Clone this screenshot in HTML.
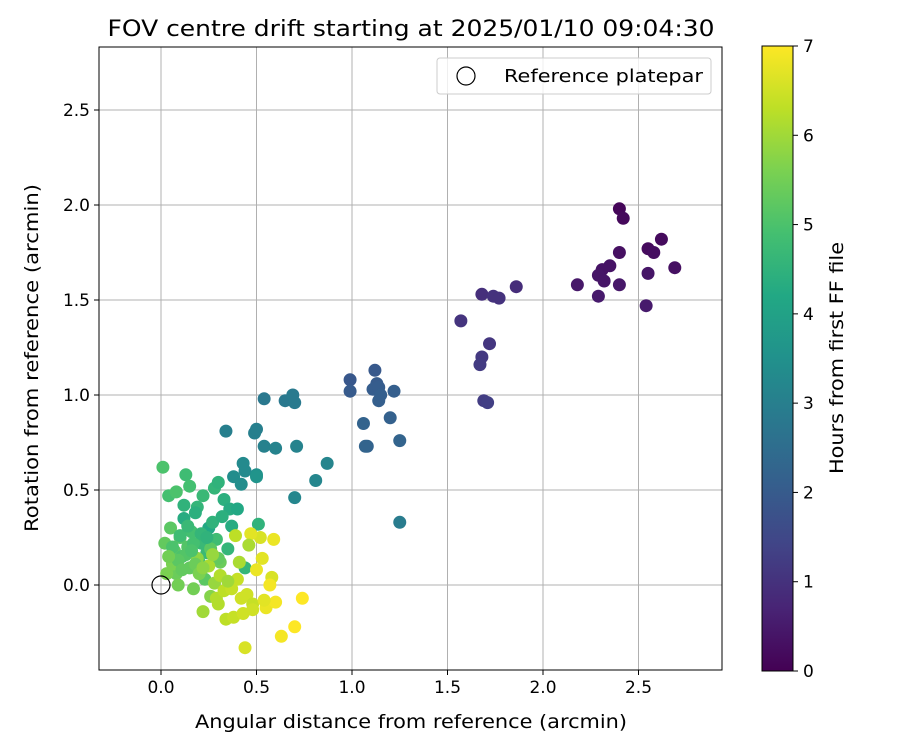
<!DOCTYPE html>
<html><head><meta charset="utf-8"><style>
body{margin:0;background:#fff;font-family:"DejaVu Sans","Liberation Sans",sans-serif}
</style></head><body>
<svg id="chart" width="900" height="750" xmlns="http://www.w3.org/2000/svg" font-family="DejaVu Sans, Liberation Sans, sans-serif">
<defs>
<linearGradient id="vir" x1="0" y1="1" x2="0" y2="0">
<stop offset="0" stop-color="#440154"/><stop offset="0.1" stop-color="#482475"/><stop offset="0.2" stop-color="#414487"/><stop offset="0.3" stop-color="#355f8d"/><stop offset="0.4" stop-color="#2a788e"/><stop offset="0.5" stop-color="#21918c"/><stop offset="0.6" stop-color="#22a884"/><stop offset="0.7" stop-color="#44bf70"/><stop offset="0.8" stop-color="#7ad151"/><stop offset="0.9" stop-color="#bddf26"/><stop offset="1" stop-color="#fde725"/>
</linearGradient>
<clipPath id="clip"><rect x="99" y="47" width="623" height="623"/></clipPath>
</defs>
<text x="411" y="36" font-size="22" text-anchor="middle" textLength="607" lengthAdjust="spacingAndGlyphs">FOV centre drift starting at 2025/01/10 09:04:30</text>
<g id="grid"></g>
<g id="points" clip-path="url(#clip)"></g>
<rect x="99" y="47" width="623" height="623" fill="none" stroke="#000" stroke-width="1"/>
<g id="ticks" font-size="17"></g>
<text x="411" y="728" font-size="19" text-anchor="middle" textLength="432" lengthAdjust="spacingAndGlyphs">Angular distance from reference (arcmin)</text>
<text transform="translate(38,358) rotate(-90)" font-size="19" text-anchor="middle" textLength="348" lengthAdjust="spacingAndGlyphs">Rotation from reference (arcmin)</text>
<g>
<rect x="437" y="58" width="274" height="36" rx="3" fill="#fff" fill-opacity="0.8" stroke="#ccc"/>
<circle cx="466" cy="76" r="9" fill="none" stroke="#000" stroke-width="1.2"/>
<text x="504" y="82" font-size="18" textLength="199" lengthAdjust="spacingAndGlyphs">Reference platepar</text>
</g>
<rect x="762" y="46" width="31" height="625" fill="url(#vir)" stroke="#000"/>
<g id="cbticks" font-size="17"></g>
<text transform="translate(843,358) rotate(-90)" font-size="19" text-anchor="middle" textLength="232" lengthAdjust="spacingAndGlyphs">Hours from first FF file</text>
</svg>
<script>
const xTicks=[0.0,0.5,1.0,1.5,2.0,2.5];
const yTicks=[0.0,0.5,1.0,1.5,2.0,2.5];
const cTicks=[0,1,2,3,4,5,6,7];
const ptX=[2.40,2.42,2.62,2.55,2.58,2.40,2.69,2.35,2.31,2.29,2.32,2.55,2.18,2.40,2.29,2.54,
1.86,1.68,1.74,1.77,1.57,1.72,1.68,1.67,1.69,1.71,
0.99,1.12,1.13,0.99,1.11,1.14,1.15,1.22,1.14,1.20,1.06,1.08,1.07,1.25,1.25,
0.54,0.65,0.69,0.70,0.34,0.49,0.50,0.54,0.60,0.71,0.87,0.81,0.70,0.43,0.44,0.38,0.42,0.50,0.50,
0.01,0.04,0.08,0.13,0.15,0.19,0.22,0.28,0.30,0.33,0.36,0.40,0.12,0.18,0.25,0.05,0.10,0.16,0.21,0.27,0.32,0.37,0.02,0.07,0.11,0.14,0.20,0.24,0.29,0.35,0.08,0.15,0.23,0.31,0.44,0.51,0.03,0.09,0.17,0.26,0.12,0.19,0.06,0.22,0.28,
0.06,0.10,0.13,0.17,0.21,0.26,0.30,0.14,0.18,0.09,0.24,0.04,0.11,0.20,0.16,
0.25,0.31,0.36,0.40,0.45,0.48,0.52,0.58,0.34,0.42,0.47,0.55,0.60,0.63,0.70,0.74,0.38,0.44,0.50,0.57,0.29,0.33,0.39,0.46,0.53,0.59,0.43,0.37,0.48,0.54,0.27,0.41,0.22,0.30,0.35];
const ptY=[1.98,1.93,1.82,1.77,1.75,1.75,1.67,1.68,1.66,1.63,1.60,1.64,1.58,1.58,1.52,1.47,
1.57,1.53,1.52,1.51,1.39,1.27,1.20,1.16,0.97,0.96,
1.08,1.13,1.06,1.02,1.03,1.04,1.00,1.02,0.97,0.88,0.85,0.73,0.73,0.76,0.33,
0.98,0.97,1.00,0.96,0.81,0.80,0.82,0.73,0.72,0.73,0.64,0.55,0.46,0.64,0.60,0.57,0.53,0.58,0.57,
0.62,0.47,0.49,0.58,0.52,0.41,0.47,0.51,0.54,0.45,0.40,0.40,0.35,0.38,0.30,0.30,0.25,0.28,0.22,0.33,0.36,0.31,0.22,0.18,0.15,0.20,0.12,0.17,0.24,0.19,0.06,0.09,0.03,0.12,0.09,0.32,0.06,0.00,-0.02,-0.06,0.42,0.14,0.11,-0.14,0.01,
0.20,0.26,0.16,0.22,0.27,0.19,0.14,0.31,0.11,0.13,0.25,0.15,0.08,0.06,0.18,
0.10,0.05,-0.01,0.03,-0.05,-0.10,0.25,0.04,-0.18,-0.07,0.27,-0.12,-0.09,-0.27,-0.22,-0.07,-0.17,-0.33,0.08,0.00,-0.07,-0.03,0.26,0.21,0.14,0.24,-0.15,-0.02,-0.13,-0.08,0.16,0.12,0.09,-0.10,0.02];
const ptT=[0.1,0.15,0.2,0.2,0.25,0.3,0.3,0.35,0.35,0.4,0.4,0.4,0.45,0.45,0.5,0.5,
0.9,0.95,1.0,1.0,1.05,1.1,1.15,1.2,1.25,1.3,
1.9,1.95,2.0,2.0,2.05,2.05,2.1,2.1,2.1,2.15,2.2,2.2,2.25,2.25,2.9,
2.8,2.8,2.85,2.85,3.0,3.0,3.0,3.05,3.1,3.1,3.15,3.2,3.2,3.3,3.3,3.4,3.4,3.5,3.6,
5.0,4.9,5.0,4.8,4.9,4.6,4.7,4.6,4.5,4.4,4.3,4.2,4.3,4.4,4.2,5.2,5.1,4.9,4.7,4.5,4.4,4.3,5.3,5.2,5.0,5.1,4.9,4.7,4.8,4.6,5.4,5.3,5.2,5.4,4.6,4.5,5.6,5.5,5.5,5.7,4.5,5.8,5.6,6.0,5.9,
5.0,4.8,5.1,4.9,4.6,5.2,5.3,4.7,5.4,5.2,4.5,5.5,5.3,5.6,5.0,
6.1,6.2,6.3,6.4,6.5,6.4,6.6,6.6,6.3,6.5,6.7,6.8,6.9,6.9,7.0,7.0,6.4,6.6,6.8,6.9,6.2,6.3,6.3,6.1,6.7,6.8,6.5,6.4,6.5,6.7,5.9,6.1,5.8,6.2,6.0];
const X0=161,XS=191,Y0=585,YS=190,CB0=671,CBS=(671-46)/7;
const sx=v=>X0+v*XS, sy=v=>Y0-v*YS;
const stops=["#440154","#482475","#414487","#355f8d","#2a788e","#21918c","#22a884","#44bf70","#7ad151","#bddf26","#fde725"];
function hex(h){return [1,3,5].map(i=>parseInt(h.substr(i,2),16));}
function vir(t){let u=Math.max(0,Math.min(1,t/7))*10;let i=Math.min(9,Math.floor(u)),f=u-i;const a=hex(stops[i]),b=hex(stops[i+1]);return "rgb("+a.map((c,k)=>Math.round(c+(b[k]-c)*f)).join(",")+")";}
const NS="http://www.w3.org/2000/svg";
function mk(tag,attrs,parent){const e=document.createElementNS(NS,tag);for(const k in attrs)e.setAttribute(k,attrs[k]);parent.appendChild(e);return e;}
const grid=document.getElementById('grid'),ticks=document.getElementById('ticks'),pts=document.getElementById('points'),cbt=document.getElementById('cbticks');
xTicks.forEach(v=>{const x=sx(v);
const g=mk('line',{x1:x,x2:x,y1:47,y2:670,stroke:'#b0b0b0','stroke-width':1},grid);

const t=mk('line',{x1:x,x2:x,y1:670,y2:675,stroke:'#000'},ticks);

const l=mk('text',{x:x,y:693,'text-anchor':'middle'},ticks);l.textContent=v.toFixed(1);
});
yTicks.forEach(v=>{const y=sy(v);
const g=mk('line',{x1:99,x2:722,y1:y,y2:y,stroke:'#b0b0b0','stroke-width':1},grid);

const t=mk('line',{x1:94,x2:99,y1:y,y2:y,stroke:'#000'},ticks);

const l=mk('text',{x:90,y:y+6,'text-anchor':'end'},ticks);l.textContent=v.toFixed(1);
});
ptX.forEach((v,i)=>{const c=mk('circle',{cx:sx(v),cy:sy(ptY[i]),r:6.5,fill:vir(ptT[i])},pts);
});
const ref=mk('circle',{cx:sx(0),cy:sy(0),r:9,fill:'none',stroke:'#000','stroke-width':1.2},pts);

cTicks.forEach(v=>{const y=CB0-v*CBS;
const t=mk('line',{x1:793,x2:798,y1:y,y2:y,stroke:'#000'},cbt);

const l=mk('text',{x:803,y:y+6},cbt);l.textContent=v;
});
</script>
</body></html>
